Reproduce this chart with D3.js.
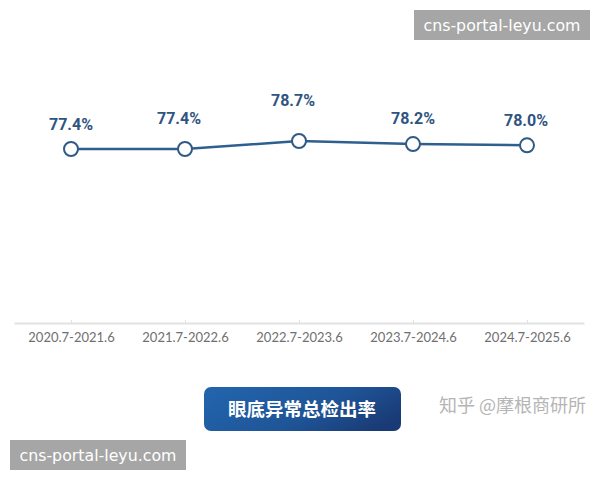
<!DOCTYPE html>
<html>
<head>
<meta charset="utf-8">
<script src="https://cdn.jsdelivr.net/npm/d3@7"></script>
<style>
  html, body { margin: 0; padding: 0; background: #fff; }
  svg { display: block; }
</style>
</head>
<body>
<div id="chart"></div>
<script>
const periods = ['2020.7-2021.6', '2021.7-2022.6', '2022.7-2023.6', '2023.7-2024.6', '2024.7-2025.6'];
const rates = [77.4, 77.4, 78.7, 78.2, 78.0];
const chartTitle = '眼底异常总检出率';
const credit = '知乎 @摩根商研所';
const stamp = 'cns-portal-leyu.com';

const width = 600;
const height = 480;
const sans = '"Noto Sans CJK SC", "Noto Sans", sans-serif';

const svg = d3.select('#chart').append('svg')
  .attr('width', width)
  .attr('height', height);

const grad = svg.append('defs').append('linearGradient')
  .attr('id', 'btn')
  .attr('x1', '0%').attr('x2', '100%')
  .attr('y1', '30%').attr('y2', '70%');
grad.append('stop').attr('offset', '0%').attr('stop-color', '#2263ab');
grad.append('stop').attr('offset', '55%').attr('stop-color', '#1f5598');
grad.append('stop').attr('offset', '100%').attr('stop-color', '#193a75');

const x = d3.scalePoint().domain(periods).range([14, 584]).padding(0.5);
const y = d3.scaleLinear().domain([49.1, 78.7]).range([323, 141]);

// x axis
const axis = svg.append('g')
  .attr('transform', `translate(0,${y.range()[0]})`)
  .call(d3.axisBottom(x).tickSizeInner(-3).tickSizeOuter(0).tickPadding(10));
axis.select('.domain').attr('stroke', '#e2e2e2').attr('stroke-width', 2);
axis.selectAll('.tick line').attr('stroke', '#e2e2e2');
axis.selectAll('.tick text')
  .attr('y', 10)
  .attr('dy', '0.71em')
  .attr('fill', '#6f6f6f')
  .style('font-family', '"Lato", "Open Sans", sans-serif')
  .style('font-size', '13px');

// line
const line = d3.line().x((d, i) => x(periods[i])).y(d => y(d));
svg.append('path')
  .datum(rates)
  .attr('d', line)
  .attr('fill', 'none')
  .attr('stroke', '#2f5f8f')
  .attr('stroke-width', 2.5);

svg.selectAll('circle.pt')
  .data(rates)
  .join('circle')
  .attr('class', 'pt')
  .attr('cx', (d, i) => x(periods[i]))
  .attr('cy', d => y(d))
  .attr('r', 7)
  .attr('fill', '#fff')
  .attr('stroke', '#2f5a85')
  .attr('stroke-width', 2);

// labels sit at uneven heights in the original
const labelShift = [[0, -25], [-6, -31], [-6, -41], [0, -26], [-1, -25]];
svg.selectAll('text.val')
  .data(rates)
  .join('text')
  .attr('class', 'val')
  .attr('x', (d, i) => x(periods[i]) + labelShift[i][0])
  .attr('y', (d, i) => y(d) + labelShift[i][1])
  .attr('dy', '0.35em')
  .attr('text-anchor', 'middle')
  .attr('fill', '#2f5480')
  .style('font-family', '"Roboto", sans-serif')
  .style('font-weight', 700)
  .style('font-size', '16px')
  .text(d => d.toFixed(1) + '%');

// title button
svg.append('rect')
  .attr('x', 204).attr('y', 387)
  .attr('width', 197).attr('height', 44)
  .attr('rx', 7)
  .attr('fill', 'url(#btn)');
svg.append('text')
  .attr('x', 302).attr('y', 409)
  .attr('dy', '0.36em')
  .attr('text-anchor', 'middle')
  .attr('fill', '#fff')
  .style('font-family', sans)
  .style('font-weight', 700)
  .style('font-size', '18.5px')
  .text(chartTitle);

svg.append('text')
  .attr('x', 439).attr('y', 406)
  .attr('dy', '0.36em')
  .attr('fill', '#b5b5b5')
  .style('font-family', sans)
  .style('font-size', '18px')
  .text(credit);

// grey stamps
[[414, 10], [10, 440]].forEach(([sx, sy]) => {
  svg.append('rect')
    .attr('x', sx).attr('y', sy)
    .attr('width', 176).attr('height', 30)
    .attr('fill', '#a6a6a6');
  svg.append('text')
    .attr('x', sx + 88).attr('y', sy + 15)
    .attr('dy', '0.36em')
    .attr('text-anchor', 'middle')
    .attr('fill', '#fff')
    .style('font-family', '"DejaVu Sans", sans-serif')
    .style('font-size', '15.8px')
    .text(stamp);
});
</script>
</body>
</html>
